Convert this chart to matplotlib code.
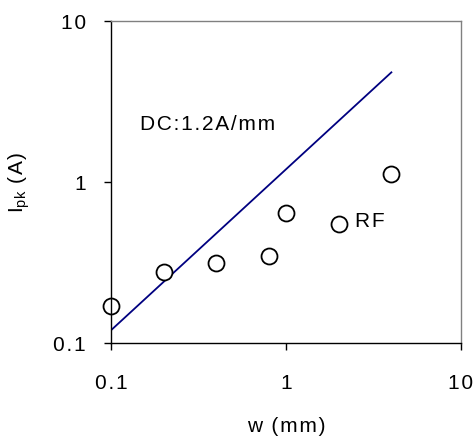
import matplotlib.pyplot as plt
import numpy as np

plt.rcParams['font.family'] = ['Liberation Sans', 'DejaVu Sans']
plt.rcParams['mathtext.fontset'] = 'custom'
plt.rcParams['mathtext.rm'] = 'Liberation Sans'

# RF measurements
w_rf = [0.1, 0.2, 0.4, 0.8, 1.0, 2.0, 4.0]
i_rf = [0.17, 0.277, 0.314, 0.347, 0.64, 0.55, 1.12]

# DC line: 1.2 A/mm
w_dc = [0.1, 4.0]
i_dc = [0.12, 4.8]

xticks = [0.1, 1, 10]
yticks = [0.1, 1, 10]
ticklabels = ['0.1', '1', '10']

FS = 15


def spaced(s):
    # the original has a slight letter spacing
    return '\u200a'.join(s)


fig = plt.figure(figsize=(4.73, 4.36), dpi=100)
ax = fig.add_axes([0.2347, 0.2133, 0.74, 0.7385])

ax.plot(w_dc, i_dc, color='#000080', lw=1.3)
ax.plot(w_rf, i_rf, 'o', ms=11.5, mfc='white', mec='black', mew=1.3, clip_on=False)

ax.set_xscale('log')
ax.set_yscale('log')
ax.set_xlim(0.1, 10)
ax.set_ylim(0.1, 10)
ax.set_xticks(xticks)
ax.set_xticklabels([spaced(t) for t in ticklabels])
ax.set_yticks(yticks)
ax.set_yticklabels([spaced(t) for t in ticklabels])
ax.minorticks_off()

ax.tick_params(axis='x', direction='out', length=5, width=1, pad=17, labelsize=FS)
ax.tick_params(axis='y', direction='out', length=5, width=1, pad=13, labelsize=FS)

ax.spines['top'].set_color('#808080')
ax.spines['right'].set_color('#808080')
for s in ax.spines.values():
    s.set_linewidth(1)

ax.text(0.1466, 2.26, spaced('DC:1.2A/mm'), fontsize=FS, va='center', ha='left')
ax.text(2.48, 0.565, spaced('RF'), fontsize=FS, va='center', ha='left')

ax.set_xlabel(spaced('w (mm)'), fontsize=FS)
ax.set_ylabel(r'$\mathregular{I_{pk}}$' + spaced(' (A)'), fontsize=FS)
ax.xaxis.set_label_coords(0.5, -0.23)
ax.yaxis.set_label_coords(-0.226, 0.5)

plt.savefig('out.png', dpi=100)
plt.close()
